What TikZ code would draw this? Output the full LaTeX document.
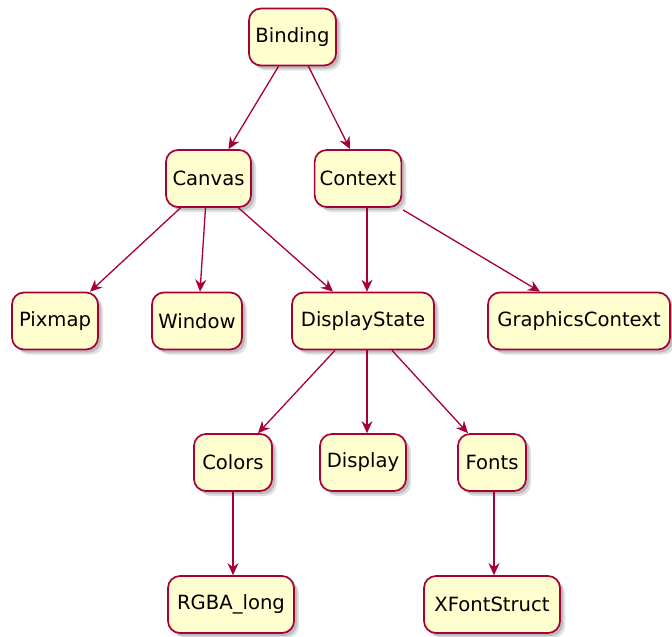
\documentclass[tikz,border=0pt]{standalone}
\usepackage{fontspec}
\setmainfont{DejaVu Sans}
\usetikzlibrary{arrows.meta,shadows}
\definecolor{umlfill}{HTML}{FEFECE}
\definecolor{umlline}{HTML}{A80036}
\tikzset{
  cls/.style={draw=umlline, fill=umlfill, line width=1.7pt, rounded corners=12pt,
    minimum height=57pt, inner xsep=5pt, font=\fontsize{19.6}{21}\selectfont,
    drop shadow={shadow xshift=3pt, shadow yshift=-3pt, opacity=0.25, fill=black!70},
    drop shadow={shadow xshift=5pt, shadow yshift=-5pt, opacity=0.2, fill=black!60}},
  dep/.style={draw=umlline, line width=1.3pt, -{Stealth[length=12pt,width=11pt,inset=4pt]}}
}
\begin{document}
\begin{tikzpicture}[x=1pt,y=-1pt]
\useasboundingbox (0,0) rectangle (672,637);
\node[cls, minimum width=87pt] (binding) at (292.5,37) {Binding};
\node[cls, minimum width=85pt] (canvas) at (208.5,178.5) {Canvas};
\node[cls, minimum width=84pt] (context) at (358,178.5) {Context};
\node[cls, minimum width=86pt] (pixmap) at (55,321) {Pixmap};
\node[cls, minimum width=90pt] (window) at (197,321) {Window};
\node[cls, minimum width=142pt] (displaystate) at (363,321) {DisplayState};
\node[cls, minimum width=182pt] (gc) at (579,321) {GraphicsContext};
\node[cls, minimum width=78pt] (colors) at (233,462.5) {Colors};
\node[cls, minimum width=86pt] (display) at (363,462.5) {Display};
\node[cls, minimum width=68pt] (fonts) at (492,462.5) {Fonts};
\node[cls, minimum width=126pt] (rgba) at (231,604.5) {RGBA\_long};
\node[cls, minimum width=136pt] (xfs) at (492,604.5) {XFontStruct};

\draw[dep] ([xshift=-14pt]binding.south) -- ([xshift=20pt]canvas.north);
\draw[dep] ([xshift=16pt]binding.south) -- ([xshift=-8pt]context.north);
\draw[dep] ([xshift=-28pt]canvas.south) -- ([xshift=35pt]pixmap.north);
\draw[dep] ([xshift=-3pt]canvas.south) -- ([xshift=3pt]window.north);
\draw[dep] ([xshift=30pt]canvas.south) -- ([xshift=-30pt]displaystate.north);
\draw[dep] ([xshift=9pt]context.south) -- ([xshift=4pt]displaystate.north);
\draw[dep] ([xshift=45pt,yshift=-2pt]context.south) -- ([xshift=-39pt]gc.north);
\draw[dep] ([xshift=-28pt]displaystate.south) -- ([xshift=25pt]colors.north);
\draw[dep] ([xshift=4pt]displaystate.south) -- ([xshift=4pt]display.north);
\draw[dep] ([xshift=29pt]displaystate.south) -- ([xshift=-24pt]fonts.north);
\draw[dep] (colors.south) -- ([xshift=2pt]rgba.north);
\draw[dep] ([xshift=2pt]fonts.south) -- ([xshift=2pt]xfs.north);
\end{tikzpicture}
\end{document}
